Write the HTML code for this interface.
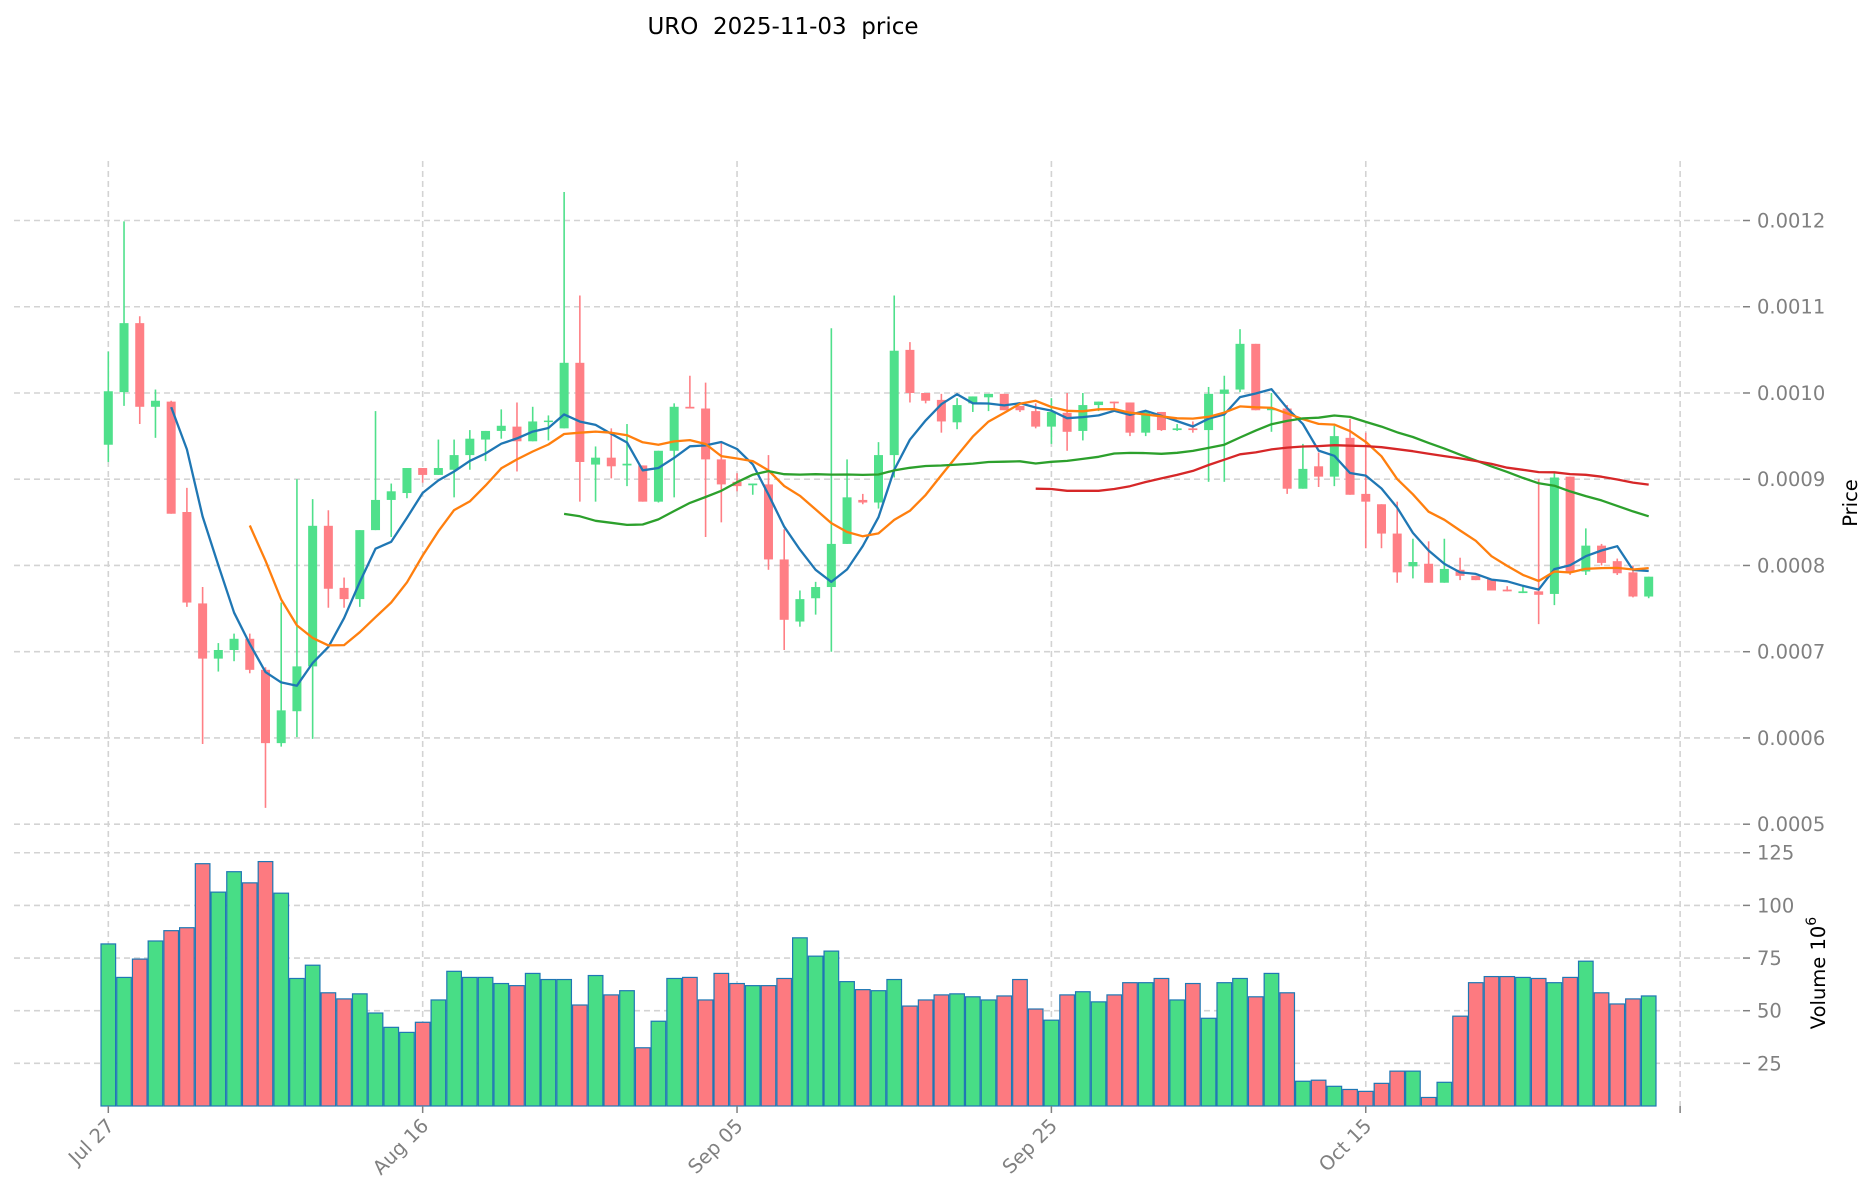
<!DOCTYPE html>
<html><head><meta charset="utf-8"><title>URO price</title>
<style>
html,body{margin:0;padding:0;background:#fff;}
svg{display:block;font-family:"DejaVu Sans","Liberation Sans",sans-serif;}
</style></head>
<body>
<svg id="chart" width="1873" height="1202" viewBox="0 0 1873 1202" xmlns="http://www.w3.org/2000/svg">
<text x="783" y="34" font-size="23" text-anchor="middle" fill="#000" style="white-space:pre">URO  2025-11-03  price</text>
<g id="grid"></g>
<g id="price"></g>
<g id="volume"></g>
<g id="axes"></g>
<text transform="translate(1857,503) rotate(-90)" font-size="19.5" text-anchor="middle" fill="#000">Price</text>
<text transform="translate(1825,973) rotate(-90)" font-size="19.5" text-anchor="middle" fill="#000">Volume  10<tspan dy="-9" font-size="14">6</tspan></text>
</svg>
<script>
// values in units of 1e-4
const opens=[9.40,10.01,10.81,9.84,9.90,8.62,7.56,6.92,7.02,7.15,6.79,5.94,6.31,6.83,8.46,7.74,7.61,8.41,8.76,8.84,9.13,9.05,9.11,9.28,9.46,9.56,9.61,9.44,9.67,9.59,10.35,9.17,9.25,9.16,9.16,8.74,9.33,9.84,9.82,9.23,8.97,8.93,8.94,8.07,7.35,7.62,7.75,8.25,8.76,8.73,9.28,10.50,10.00,9.92,9.66,9.88,9.95,9.99,9.85,9.79,9.61,9.77,9.56,9.86,9.90,9.89,9.54,9.78,9.57,9.59,9.57,9.99,10.04,10.57,9.80,9.82,8.89,9.15,9.03,9.48,8.83,8.71,8.37,7.99,8.02,7.80,7.95,7.88,7.84,7.72,7.68,7.70,7.67,9.03,7.93,8.23,8.05,7.92,7.64];
const closes=[10.02,10.81,9.84,9.91,8.60,7.57,6.92,7.02,7.15,6.79,5.94,6.32,6.83,8.46,7.73,7.61,8.41,8.76,8.86,9.13,9.05,9.13,9.28,9.47,9.56,9.62,9.44,9.67,9.68,10.35,9.20,9.25,9.15,9.18,8.74,9.33,9.84,9.82,9.23,8.94,8.92,8.95,8.07,7.37,7.61,7.75,8.25,8.79,8.73,9.28,10.49,10.00,9.91,9.67,9.86,9.96,9.99,9.80,9.80,9.61,9.78,9.55,9.86,9.90,9.88,9.54,9.79,9.57,9.59,9.57,9.99,10.04,10.57,9.80,9.82,8.89,9.12,9.03,9.50,8.82,8.74,8.37,7.92,8.04,7.80,7.96,7.88,7.83,7.71,7.70,7.70,7.66,9.02,7.93,8.23,8.03,7.91,7.64,7.87];
const highs=[10.48,11.99,10.89,10.04,9.91,8.90,7.75,7.10,7.21,7.21,6.82,7.57,9.00,8.77,8.64,7.86,8.41,9.79,8.95,9.13,9.13,9.46,9.46,9.57,9.56,9.81,9.89,9.84,9.74,12.33,11.13,9.38,9.59,9.64,9.16,9.33,9.88,10.20,10.12,9.42,9.07,8.95,9.28,8.42,7.71,7.81,10.75,9.23,8.83,9.43,11.13,10.59,10.00,9.99,9.94,9.96,9.99,9.99,9.85,9.88,9.94,10.00,10.00,9.90,9.90,9.89,9.79,9.78,9.64,9.67,10.07,10.20,10.74,10.57,10.00,9.86,9.41,9.31,9.62,9.70,9.54,8.71,8.74,8.31,8.28,8.31,8.09,7.88,7.84,7.76,7.76,9.00,9.07,9.03,8.43,8.25,8.08,8.00,7.87];
const lows=[9.20,9.85,9.64,9.48,8.60,7.52,5.93,6.77,6.89,6.75,5.19,5.90,6.01,5.99,7.51,7.51,7.52,8.41,8.33,8.78,8.96,9.05,8.79,9.11,9.21,9.47,9.09,9.44,9.45,9.59,8.74,8.74,9.01,8.92,8.74,8.73,8.79,9.82,8.33,8.50,8.86,8.82,7.95,7.02,7.29,7.43,7.00,8.25,8.71,8.66,9.02,9.89,9.88,9.54,9.58,9.78,9.79,9.80,9.78,9.59,9.41,9.33,9.45,9.79,9.82,9.50,9.50,9.56,9.56,9.54,8.97,8.97,10.01,9.80,9.55,8.83,8.89,8.91,8.92,8.82,8.20,8.20,7.80,7.85,7.80,7.80,7.83,7.83,7.71,7.70,7.68,7.32,7.54,7.89,7.89,8.00,7.89,7.63,7.62];
const volumes=[81.7,65.8,74.5,83.1,88.0,89.4,119.8,106.3,116.0,110.7,120.8,105.8,65.3,71.6,58.5,55.6,58.0,48.9,42.1,39.7,44.5,55.1,68.7,65.8,65.8,62.9,61.9,67.7,64.8,64.8,52.7,66.7,57.5,59.5,32.4,45.0,65.3,65.8,55.1,67.7,62.9,61.9,61.9,65.3,84.6,75.9,78.3,63.8,60.0,59.5,64.8,52.2,55.1,57.5,58.0,56.6,55.1,57.0,64.8,50.8,45.5,57.5,59.0,54.2,57.5,63.3,63.3,65.3,55.1,62.9,46.4,63.3,65.3,56.6,67.7,58.5,16.5,17.0,14.1,12.6,11.7,15.5,21.3,21.3,8.8,16.0,47.4,63.3,66.2,66.2,65.8,65.3,63.3,65.8,73.5,58.5,53.2,55.6,57.0];
const maWindows=[5,10,30,60];
const maColors=['#1f77b4','#ff7f0e','#2ca02c','#d62728'];
const priceTicks=[5,6,7,8,9,10,11,12];
const priceTickLabels=['0.0005','0.0006','0.0007','0.0008','0.0009','0.0010','0.0011','0.0012'];
const volTicks=[25,50,75,100,125];
const dateTickIdx=[0,20,40,60,80,100];
const dateTickLabels=['Jul 27','Aug 16','Sep 05','Sep 25','Oct 15',''];

const NS='http://www.w3.org/2000/svg';
const L=14,R=1743,PT=161,PB=838,VT=838,VB=1106;
const X0=-6.0,X1=104.0,P0=4.84,P1=12.69,V0=4.75,V1=132;
function xs(i){return L+(i-X0)/(X1-X0)*(R-L);}
function yp(v){return PB-(v-P0)/(P1-P0)*(PB-PT);}
function yv(v){return VB-(v-V0)/(V1-V0)*(VB-VT);}
function mk(tag,attrs,parent){const e=document.createElementNS(NS,tag);for(const k in attrs)e.setAttribute(k,attrs[k]);parent.appendChild(e);return e;}
const grid=document.getElementById('grid'),price=document.getElementById('price'),vol=document.getElementById('volume'),axes=document.getElementById('axes');
const gst={stroke:'#d3d3d3','stroke-width':1.6,'stroke-dasharray':'6,4',fill:'none'};
priceTicks.forEach((t,k)=>{
  const y=yp(t);
  const g=mk('line',Object.assign({x1:L,x2:R,y1:y,y2:y},gst),grid);
  
  
  const tk=mk('line',{x1:R,x2:R+7,y1:y,y2:y,stroke:'#808080','stroke-width':1.5},axes);
  
  
  const tx=mk('text',{x:1757,y:y+7,'font-size':19.5,fill:'#808080'},axes);
  tx.textContent=priceTickLabels[k];
  
  
});
volTicks.forEach(t=>{
  const y=yv(t);
  const g=mk('line',Object.assign({x1:L,x2:R,y1:y,y2:y},gst),grid);
  
  
  const tk=mk('line',{x1:R,x2:R+7,y1:y,y2:y,stroke:'#808080','stroke-width':1.5},axes);
  
  
  const tx=mk('text',{x:1757,y:y+7,'font-size':19.5,fill:'#808080'},axes);
  tx.textContent=String(t);
  
  
});
dateTickIdx.forEach((d,k)=>{
  const x=xs(d);
  const g=mk('line',Object.assign({x1:x,x2:x,y1:PT,y2:VB},gst),grid);
  
  
  const tk=mk('line',{x1:x,x2:x,y1:VB,y2:VB+7,stroke:'#808080','stroke-width':1.5},axes);
  
  
  if(dateTickLabels[k]){
    const tx=mk('text',{transform:'translate('+(x+7)+','+(VB+21)+') rotate(-45)','font-size':19.5,fill:'#808080','text-anchor':'end'},axes);
    tx.textContent=dateTickLabels[k];
    
    
  }
});
const UP='#4fe08b',DN='#ff7f85';
const bw=9;
for(let i=0;i<closes.length;i++){
  const up=closes[i]>=opens[i];const c=up?UP:DN;const x=xs(i);
  const w=mk('line',{x1:x,x2:x,y1:yp(highs[i]),y2:yp(lows[i]),stroke:c,'stroke-width':1.6},price);
  
  
  const top=yp(Math.max(opens[i],closes[i])),bot=yp(Math.min(opens[i],closes[i]));
  const b=mk('rect',{x:x-bw/2,y:top,width:bw,height:Math.max(bot-top,1.5),fill:c},price);
  
  
  const vw=14.6;
  const vb=mk('rect',{x:x-vw/2,y:yv(volumes[i]),width:vw,height:VB-yv(volumes[i]),fill:up?'#48dd86':'#fd7a80',stroke:'#1f77b4','stroke-width':1.2},vol);
  
  
}
maWindows.forEach((n,k)=>{
  const pts=[];
  for(let i=n-1;i<closes.length;i++){let s=0;for(let j=i-n+1;j<=i;j++)s+=closes[j];pts.push(xs(i).toFixed(1)+','+yp(s/n).toFixed(1));}
  const pl=mk('polyline',{points:pts.join(' '),fill:'none',stroke:maColors[k],'stroke-width':2.3,'stroke-linejoin':'round'},price);
  
  
});
</script>
</body></html>
